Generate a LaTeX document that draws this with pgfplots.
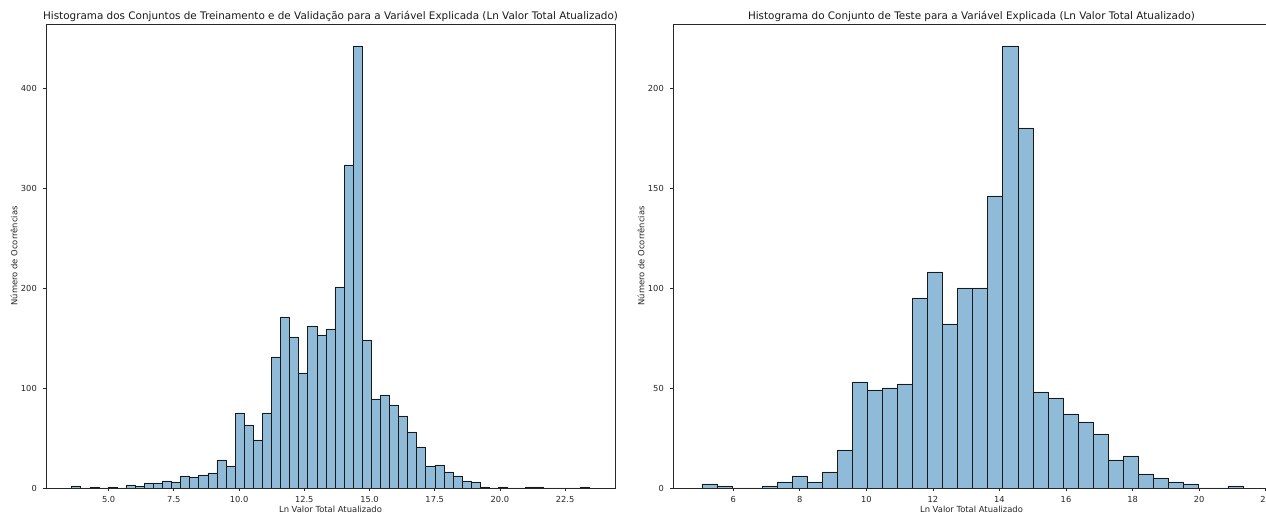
\documentclass[border=0pt]{standalone}
\usepackage{pgfplots}
\usepackage{pgfplotstable}
\pgfplotsset{compat=1.18}
\usepackage{fontspec}
\setmainfont{DejaVu Sans}
\definecolor{barfill}{RGB}{143,187,217}
\definecolor{spine}{RGB}{40,40,40}

\pgfplotstableread{
x y
3.584 2
3.932 0
4.280 1
4.628 0
4.976 1
5.324 0
5.672 3
6.020 2
6.368 5
6.716 5
7.064 7
7.412 6
7.760 12
8.108 11
8.456 13
8.804 15
9.152 28
9.500 22
9.848 75
10.196 63
10.544 48
10.892 75
11.240 131
11.588 171
11.936 151
12.284 115
12.632 162
12.980 153
13.328 159
13.676 201
14.024 323
14.372 442
14.720 148
15.068 89
15.416 93
15.764 83
16.112 72
16.460 56
16.808 41
17.156 22
17.504 23
17.852 16
18.200 12
18.548 7
18.896 6
19.244 1
19.592 0
19.940 1
20.288 0
20.636 0
20.984 1
21.332 1
21.680 0
22.028 0
22.376 0
22.724 0
23.072 1
23.420 1
}\trainval

\pgfplotstableread{
x y
5.060 2
5.512 1
5.964 0
6.416 0
6.868 1
7.320 3
7.772 6
8.224 3
8.676 8
9.128 19
9.580 53
10.032 49
10.484 50
10.936 52
11.388 95
11.840 108
12.292 82
12.744 100
13.196 100
13.648 146
14.100 221
14.552 180
15.004 48
15.456 45
15.908 37
16.360 33
16.812 27
17.264 14
17.716 16
18.168 7
18.620 5
19.072 3
19.524 2
19.976 0
20.428 0
20.880 1
21.332 1
}\teste

\pgfplotsset{
  histax/.style={
    scale only axis,
    height=464pt,
    anchor=south west,
    axis on top,
    axis line style={spine, line width=0.7pt},
    every tick/.style={spine, line width=0.7pt},
    tick align=outside,
    major tick length=3pt,
    xtick pos=lower, ytick pos=left,
    /pgf/number format/assume math mode=true,
    tick label style={font=\fontsize{8.3}{10}\selectfont, text=black!85},
    xticklabel style={anchor=base, yshift=-12pt, inner sep=0pt},
    yticklabel style={anchor=east, xshift=-6pt, inner sep=0pt},
    label style={font=\fontsize{8.4}{10}\selectfont, text=black!85},
    xlabel style={at={(axis description cs:0.5,0)}, anchor=base, yshift=-24.5pt, inner sep=0pt},
    ylabel style={at={(axis description cs:0,0.5)}, anchor=center, yshift=32pt, inner sep=0pt},
    title style={font=\fontsize{10.4}{12}\selectfont, text=black!90, at={(axis description cs:0.5,1)}, anchor=base, yshift=-2pt, inner sep=0pt},
    ymin=0,
    scaled ticks=false,
  },
  histbar/.style={ybar interval, fill=barfill, draw=black!90, line width=0.6pt},
}

\begin{document}
\begin{tikzpicture}
\begin{axis}[histax,
  at={(46pt,25pt)}, width=569pt,
  xmin=2.60, xmax=24.41, ymax=464,
  xtick={5,7.5,10,12.5,15,17.5,20,22.5},
  xticklabels={5.0,7.5,10.0,12.5,15.0,17.5,20.0,22.5},
  ytick={0,100,200,300,400},
  title={Histograma dos Conjuntos de Treinamento e de Validação para a Variável Explicada (Ln Valor Total Atualizado)},
  xlabel={Ln Valor Total Atualizado},
  ylabel={Número de Ocorrências},
]
\addplot[histbar] table[x=x, y=y] {\trainval};
\end{axis}

\begin{axis}[histax,
  at={(673pt,25pt)}, width=597pt,
  xmin=4.19, xmax=22.13, ymax=232,
  xtick={6,8,10,12,14,16,18,20,22},
  ytick={0,50,100,150,200},
  title={Histograma do Conjunto de Teste para a Variável Explicada (Ln Valor Total Atualizado)},
  xlabel={Ln Valor Total Atualizado},
  ylabel={Número de Ocorrências},
]
\addplot[histbar] table[x=x, y=y] {\teste};
\end{axis}
\pgfresetboundingbox
\path (0,0) rectangle (1266pt,513pt);
\end{tikzpicture}
\end{document}
